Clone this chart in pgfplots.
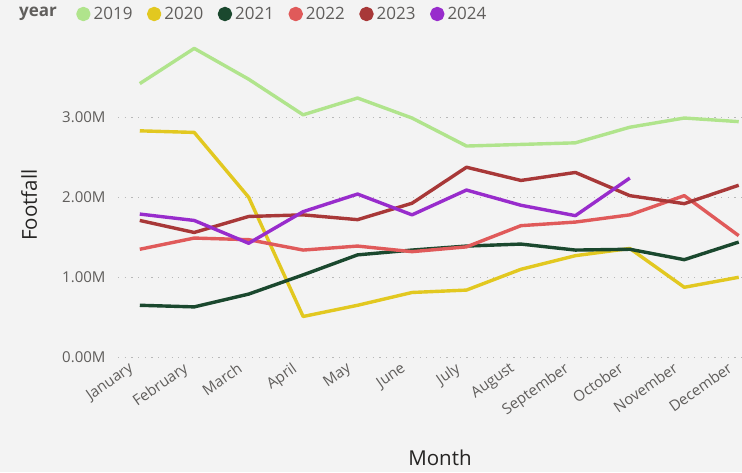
\documentclass[border=0pt]{standalone}
\usepackage{fontspec}
\setmainfont{Open Sans}
\usepackage{pgfplots}
\pgfplotsset{compat=1.18}
\definecolor{bg}{RGB}{243,243,243}
\definecolor{tick}{RGB}{96,94,92}
\definecolor{ttl}{RGB}{37,36,35}
\definecolor{c19}{RGB}{176,228,140}
\definecolor{c20}{RGB}{226,200,32}
\definecolor{c21}{RGB}{26,72,46}
\definecolor{c22}{RGB}{224,90,90}
\definecolor{c23}{RGB}{168,56,56}
\definecolor{c24}{RGB}{152,44,204}
\begin{document}
\begin{tikzpicture}
\path[use as bounding box, fill=bg] (-118pt,-114.7pt) rectangle (624pt,357.3pt);
\begin{axis}[
  at={(0,0)}, anchor=south west,
  scale only axis, width=624pt, height=327.3pt,
  xmin=-0.4, xmax=11.06, ymin=0, ymax=4.09,
  axis line style={draw=none},
  tick style={draw=none},
  xtick={0,...,11},
  xticklabels={January,February,March,April,May,June,July,August,September,October,November,December},
  ytick={0,1,2,3},
  yticklabels={0.00M,1.00M,2.00M,3.00M},
  ymajorgrids,
  grid style={dash pattern=on 1.2pt off 5.5pt, color=black!28, line width=1.2pt},
  ticklabel style={font=\fontsize{15}{18}\selectfont, text=tick},
  xticklabel style={xshift=-12pt, yshift=-4pt, rotate=35, anchor=north east, inner sep=0pt},
  yticklabel style={xshift=-9pt},
  xlabel={Month}, ylabel={Footfall},
  label style={font=\fontsize{20.5}{24}\selectfont, text=ttl},
  xlabel style={at={(axis description cs:0.516,0)}, anchor=center, yshift=-101pt},
  ylabel style={at={(axis description cs:-0.1426,0.465)}, anchor=center},
  every axis plot/.append style={line width=3.4pt, line join=round},
  legend columns=-1,
  legend style={draw=none, fill=none, at={(axis description cs:0,1)}, anchor=west, xshift=-42pt, yshift=16pt,
    font=\fontsize{17}{20}\selectfont, text=tick, inner sep=0pt,
    /tikz/every odd column/.append style={column sep=1pt},
    /tikz/every even column/.append style={column sep=12.5pt}},
  legend image code/.code={\fill[#1] (5.5pt,0pt) circle (5.5pt);},
]
\addplot[c19] coordinates {(0,3.42)(1,3.86)(2,3.475)(3,3.03)(4,3.24)(5,2.99)(6,2.64)(7,2.66)(8,2.68)(9,2.875)(10,2.99)(11,2.945)};
\addplot[c20] coordinates {(0,2.83)(1,2.81)(2,2.0)(3,0.51)(4,0.65)(5,0.81)(6,0.84)(7,1.10)(8,1.27)(9,1.36)(10,0.875)(11,1.0)};
\addplot[c21] coordinates {(0,0.65)(1,0.63)(2,0.79)(3,1.03)(4,1.28)(5,1.34)(6,1.39)(7,1.415)(8,1.34)(9,1.35)(10,1.22)(11,1.44)};
\addplot[c22] coordinates {(0,1.35)(1,1.49)(2,1.47)(3,1.34)(4,1.39)(5,1.32)(6,1.38)(7,1.645)(8,1.69)(9,1.78)(10,2.02)(11,1.52)};
\addplot[c23] coordinates {(0,1.71)(1,1.56)(2,1.76)(3,1.78)(4,1.72)(5,1.925)(6,2.375)(7,2.21)(8,2.31)(9,2.02)(10,1.92)(11,2.15)};
\addplot[c24] coordinates {(0,1.79)(1,1.71)(2,1.425)(3,1.82)(4,2.04)(5,1.78)(6,2.09)(7,1.90)(8,1.77)(9,2.24)};
\legend{2019,2020,2021,2022,2023,2024}
\end{axis}
\node[anchor=west, font=\fontsize{17}{20}\selectfont\bfseries, text=tick, inner sep=0pt] at (-99pt,343.3pt) {year};
\end{tikzpicture}
\end{document}
